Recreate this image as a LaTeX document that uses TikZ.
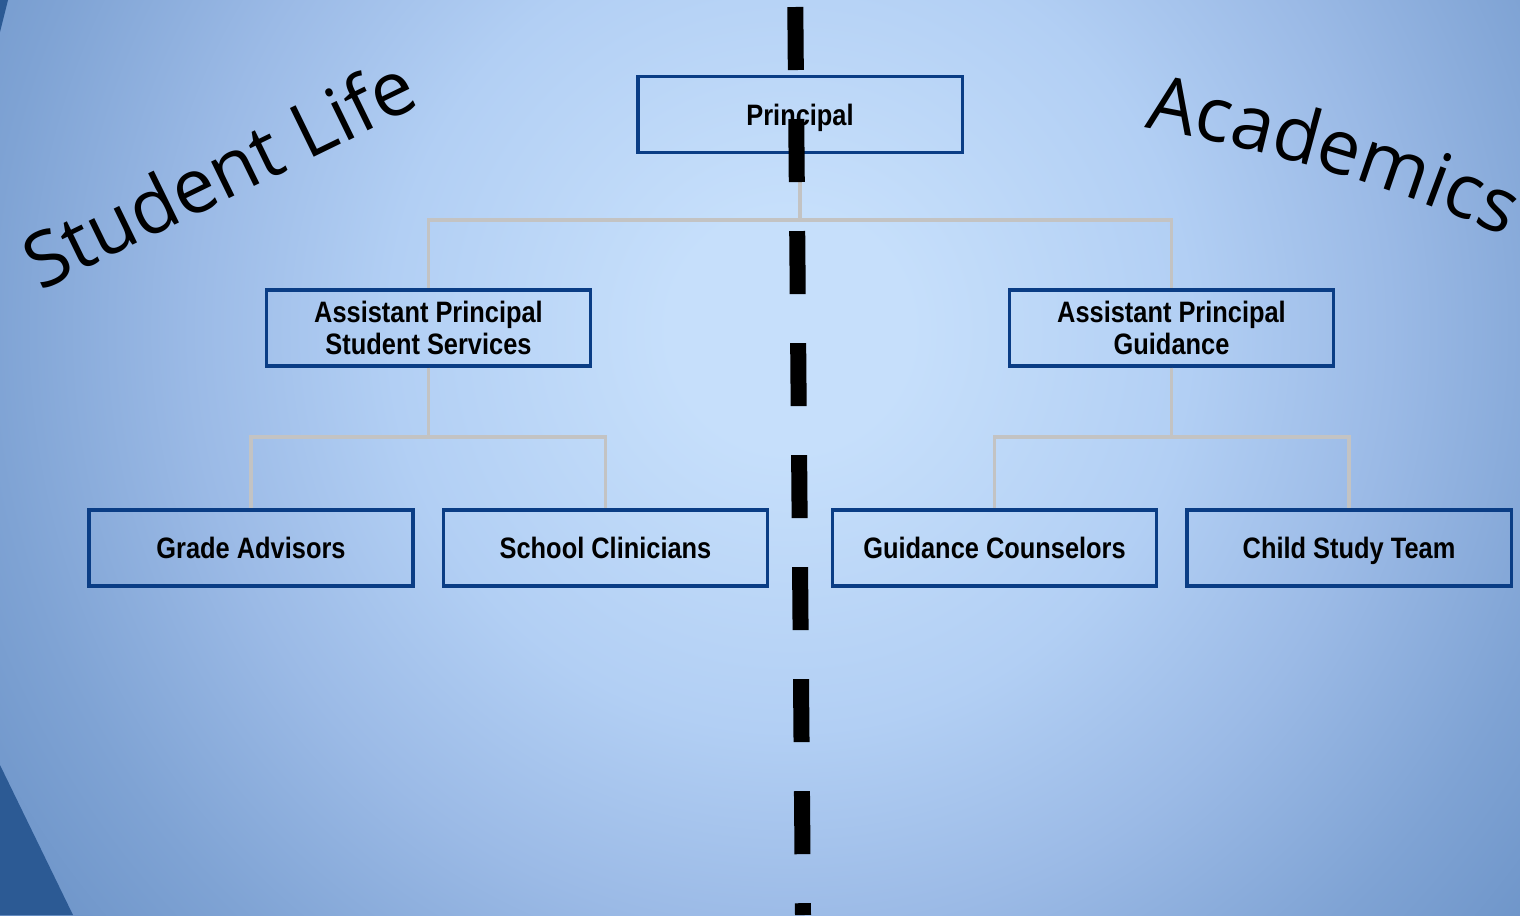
\documentclass[tikz,border=0pt]{standalone}
\usepackage{fontspec}
\setmainfont{Liberation Sans}
\newfontfamily\boxfont[FakeStretch=0.86]{Liberation Sans}
\newfontfamily\wordfont{Open Sans}
\usetikzlibrary{positioning,decorations.text}

\definecolor{bgin}{HTML}{C6DFFB}
\definecolor{bgone}{HTML}{B2CFF4}
\definecolor{bgtwo}{HTML}{9BBAE6}
\definecolor{bgthree}{HTML}{7FA3D4}
\definecolor{bgout}{HTML}{6890C5}
\definecolor{bgdark}{HTML}{2C5A94}
\definecolor{boxline}{HTML}{0A3D85}
\definecolor{linkgray}{HTML}{C3C3C3}
\pgfdeclareradialshading{backglow}{\pgfpoint{0bp}{0bp}}{color(0bp)=(bgin); color(3bp)=(bgin); color(10bp)=(bgone); color(15bp)=(bgtwo); color(20bp)=(bgthree); color(25bp)=(bgout); color(50bp)=(bgout)}

\tikzset{
	orgbox/.style={draw=boxline, line width=2.2pt, minimum width=8.1cm, minimum height=1.9cm, inner sep=0pt, align=center, font=\boxfont\bfseries\fontsize{21}{23}\selectfont},
	oneline/.style={orgbox, text height=17pt, text depth=2pt},
	link/.style={draw=linkgray, line width=2.2pt},
	divider/.style={line width=0.4cm, dash pattern=on 1.575cm off 1.225cm},
	wordtext/.style={font=\wordfont\fontsize{54}{60}\selectfont, inner sep=0pt}
}

\begin{document}
\begin{tikzpicture}[x=0.025cm, y=-0.025cm]
	\useasboundingbox (0,0) rectangle (1520,915);
	\clip (0,0) rectangle (1520,915);
	\shade[shading=backglow] (790,330) circle (1000);
	\fill[bgdark] (0,0) -- (8,0) -- (0,32) -- cycle;
	\fill[bgdark] (0,765) -- (73,915) -- (0,915) -- cycle;

	\node[wordtext, rotate=26, anchor=base] (studentlife) at (231,198) {Student Life};
	\path[decorate, decoration={text along path, text align=center, text={|\wordfont\fontsize{54}{60}\selectfont|Academics}}]
		(1122,124) .. controls (1262,147) and (1399,187) .. (1526,246);

	\node[oneline] (principal) at (800,114.5) {Principal};
	\node[orgbox] (apss) at (428.5,328) {Assistant Principal\\Student Services};
	\node[orgbox] (apg) at (1171.5,328) {Assistant Principal\\Guidance};
	\node[oneline] (grade) at (251,548) {Grade Advisors};
	\node[oneline] (clinic) at (605.5,548) {School Clinicians};
	\node[oneline] (couns) at (994.5,548) {Guidance Counselors};
	\node[oneline] (cst) at (1349,548) {Child Study Team};

	\coordinate (topfork) at (800,220);
	\coordinate (leftfork) at (428.5,437);
	\coordinate (rightfork) at (1171.5,437);
	\draw[link] (principal.south) -- (topfork) -| (apss.north);
	\draw[link] (topfork) -| (apg.north);
	\draw[link] (apss.south) -- (leftfork) -| (grade.north);
	\draw[link] (leftfork) -| (clinic.north);
	\draw[link] (apg.south) -- (rightfork) -| (couns.north);
	\draw[link] (rightfork) -| (cst.north);

	\coordinate (divtop) at (795.3,7);
	\coordinate (divbot) at (803,915);
	\draw[divider] (divtop) -- (divbot);
\end{tikzpicture}
\end{document}
